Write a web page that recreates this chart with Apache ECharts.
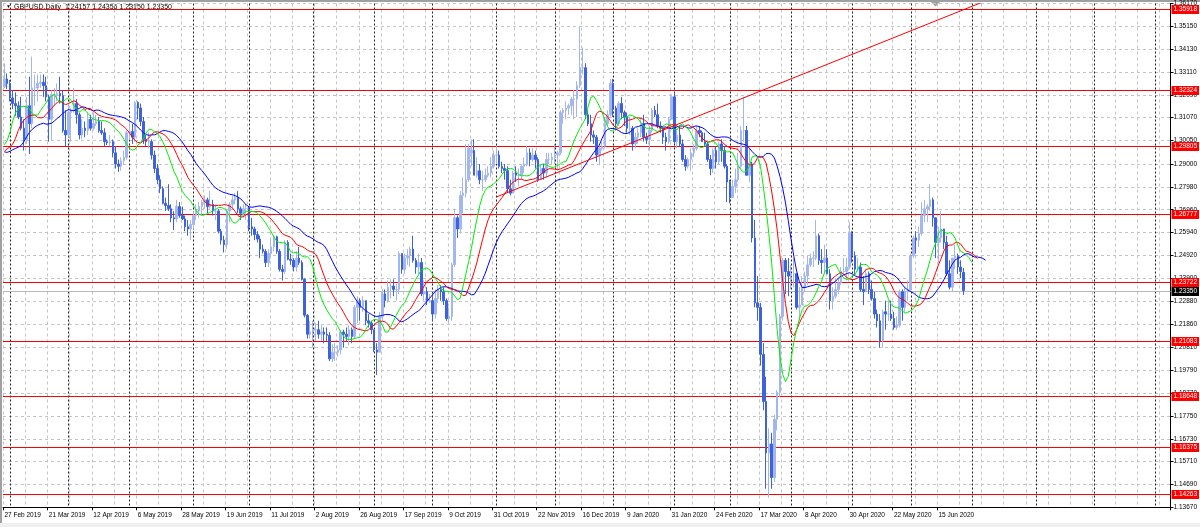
<!DOCTYPE html>
<html><head><meta charset="utf-8">
<script src="https://cdn.jsdelivr.net/npm/echarts@6/dist/echarts.min.js"></script>
<style>html,body{margin:0;padding:0;background:#fff}#c{width:1200px;height:527px}</style>
</head><body><div id="c"></div>
<script>
// ---------- DATA ----------
const symbolTitle = 'GBPUSD,Daily';
const startDate = '2019-02-27';
const holidays = ['2019-12-25', '2020-01-01'];
const futureSlots = 74;            // empty (future) slots on the right, chart shift
// daily bars [open, high, low, close], 27 Feb 2019 .. 26 Jun 2020
const ohlc = [
[1.3245,1.3350,1.3240,1.3280],[1.3280,1.3305,1.3235,1.3260],
[1.3260,1.3275,1.3180,1.3195],
[1.3195,1.3230,1.3145,1.3170],[1.3170,1.3220,1.3115,1.3160],[1.3160,1.3180,1.3100,1.3110],[1.3110,1.3200,1.3050,1.3060],[1.3060,1.3100,1.2960,1.3010],
[1.3010,1.3200,1.2990,1.3160],[1.3160,1.3290,1.2945,1.3080],[1.3080,1.3380,1.3060,1.3240],[1.3240,1.3300,1.3160,1.3240],[1.3240,1.3300,1.3180,1.3260],
[1.3260,1.3300,1.3240,1.3265],[1.3265,1.3300,1.3200,1.3250],[1.3250,1.3290,1.3180,1.3200],[1.3200,1.3210,1.3000,1.3100],[1.3100,1.3230,1.3005,1.3210],
[1.3210,1.3240,1.3160,1.3210],[1.3210,1.3260,1.3180,1.3215],[1.3215,1.3290,1.3170,1.3205],[1.3205,1.3230,1.3040,1.3050],[1.3050,1.3140,1.2980,1.3030],
[1.3030,1.3170,1.3020,1.3130],[1.3130,1.3150,1.3000,1.3140],[1.3140,1.3240,1.3130,1.3170],[1.3170,1.3190,1.3080,1.3120],[1.3120,1.3130,1.3010,1.3030],
[1.3030,1.3100,1.3010,1.3060],[1.3060,1.3090,1.3020,1.3050],[1.3050,1.3130,1.3030,1.3100],[1.3100,1.3120,1.3050,1.3060],[1.3060,1.3130,1.3050,1.3080],
[1.3080,1.3120,1.3070,1.3090],[1.3090,1.3110,1.3040,1.3050],[1.3050,1.3090,1.3030,1.3040],[1.3040,1.3060,1.2980,1.3000],[1.3000,1.3010,1.2985,1.2995],
[1.2995,1.3030,1.2980,1.3000],[1.3000,1.3010,1.2930,1.2950],[1.2950,1.2980,1.2880,1.2900],[1.2900,1.2920,1.2865,1.2890],[1.2890,1.2930,1.2870,1.2915],
[1.2915,1.2960,1.2900,1.2930],[1.2930,1.3050,1.2920,1.3040],[1.3040,1.3100,1.3010,1.3045],[1.3045,1.3080,1.2990,1.3020],[1.3020,1.3180,1.3000,1.3175],
[1.3175,1.3180,1.3100,1.3150],[1.3150,1.3170,1.3070,1.3090],[1.3090,1.3110,1.2990,1.3010],[1.3010,1.3030,1.2980,1.3000],[1.3000,1.3040,1.2970,1.3000],
[1.3000,1.3010,1.2920,1.2940],[1.2940,1.2960,1.2860,1.2880],[1.2880,1.2900,1.2810,1.2830],[1.2830,1.2850,1.2770,1.2790],[1.2790,1.2800,1.2720,1.2725],
[1.2725,1.2750,1.2690,1.2715],[1.2715,1.2810,1.2690,1.2700],[1.2700,1.2720,1.2640,1.2660],[1.2660,1.2690,1.2605,1.2655],[1.2655,1.2740,1.2640,1.2710],
[1.2710,1.2730,1.2660,1.2670],[1.2670,1.2710,1.2650,1.2655],[1.2655,1.2670,1.2600,1.2620],[1.2620,1.2650,1.2580,1.2610],[1.2610,1.2650,1.2560,1.2630],
[1.2630,1.2690,1.2610,1.2670],[1.2670,1.2720,1.2650,1.2690],[1.2690,1.2730,1.2660,1.2710],[1.2710,1.2740,1.2670,1.2730],[1.2730,1.2760,1.2700,1.2740],
[1.2740,1.2750,1.2680,1.2710],[1.2710,1.2780,1.2700,1.2720],[1.2720,1.2740,1.2670,1.2690],[1.2690,1.2720,1.2650,1.2690],[1.2690,1.2700,1.2590,1.2600],
[1.2600,1.2610,1.2540,1.2560],[1.2560,1.2580,1.2505,1.2540],[1.2540,1.2700,1.2520,1.2690],[1.2690,1.2730,1.2640,1.2720],[1.2720,1.2760,1.2700,1.2740],
[1.2740,1.2770,1.2720,1.2750],[1.2750,1.2780,1.2680,1.2700],[1.2700,1.2710,1.2650,1.2680],[1.2680,1.2720,1.2660,1.2700],[1.2700,1.2720,1.2650,1.2700],
[1.2700,1.2710,1.2600,1.2620],[1.2620,1.2660,1.2580,1.2610],[1.2610,1.2620,1.2560,1.2585],[1.2585,1.2600,1.2550,1.2565],[1.2565,1.2580,1.2480,1.2520],
[1.2520,1.2540,1.2500,1.2510],[1.2510,1.2520,1.2440,1.2460],[1.2460,1.2520,1.2440,1.2500],[1.2500,1.2570,1.2490,1.2530],[1.2530,1.2580,1.2510,1.2575],
[1.2575,1.2580,1.2500,1.2510],[1.2510,1.2520,1.2420,1.2430],[1.2430,1.2450,1.2380,1.2420],[1.2420,1.2560,1.2410,1.2550],[1.2550,1.2560,1.2470,1.2475],
[1.2475,1.2500,1.2450,1.2470],[1.2470,1.2480,1.2420,1.2440],[1.2440,1.2510,1.2420,1.2480],[1.2480,1.2530,1.2450,1.2460],[1.2460,1.2470,1.2380,1.2385],
[1.2385,1.2390,1.2215,1.2225],[1.2225,1.2230,1.2120,1.2140],[1.2140,1.2200,1.2120,1.2150],[1.2150,1.2200,1.2080,1.2160],[1.2160,1.2190,1.2110,1.2160],
[1.2160,1.2200,1.2120,1.2140],[1.2140,1.2180,1.2110,1.2150],[1.2150,1.2170,1.2100,1.2140],[1.2140,1.2170,1.2110,1.2135],[1.2135,1.2150,1.2020,1.2030],
[1.2030,1.2095,1.2015,1.2060],[1.2060,1.2100,1.2020,1.2060],[1.2060,1.2090,1.2040,1.2070],[1.2070,1.2160,1.2050,1.2150],[1.2150,1.2160,1.2080,1.2140],
[1.2140,1.2170,1.2110,1.2130],[1.2130,1.2180,1.2090,1.2160],[1.2160,1.2170,1.2100,1.2130],[1.2130,1.2270,1.2120,1.2260],[1.2260,1.2310,1.2190,1.2290],
[1.2290,1.2300,1.2200,1.2260],[1.2260,1.2310,1.2240,1.2290],[1.2290,1.2290,1.2180,1.2200],[1.2200,1.2230,1.2170,1.2190],[1.2190,1.2200,1.2140,1.2160],
[1.2160,1.2160,1.2060,1.2070],[1.2070,1.2100,1.1958,1.2060],[1.2060,1.2240,1.2060,1.2220],[1.2220,1.2340,1.2200,1.2320],[1.2320,1.2340,1.2260,1.2290],
[1.2290,1.2380,1.2280,1.2350],[1.2350,1.2385,1.2300,1.2355],[1.2355,1.2385,1.2310,1.2340],[1.2340,1.2365,1.2290,1.2340],[1.2340,1.2510,1.2320,1.2500],
[1.2500,1.2500,1.2410,1.2430],[1.2430,1.2500,1.2410,1.2480],[1.2480,1.2520,1.2450,1.2490],[1.2490,1.2530,1.2440,1.2520],[1.2520,1.2580,1.2460,1.2470],
[1.2470,1.2480,1.2410,1.2440],[1.2440,1.2500,1.2410,1.2460],[1.2460,1.2480,1.2310,1.2320],[1.2320,1.2380,1.2290,1.2330],[1.2330,1.2350,1.2270,1.2290],
[1.2290,1.2320,1.2280,1.2290],[1.2290,1.2320,1.2200,1.2230],[1.2230,1.2340,1.2210,1.2300],[1.2300,1.2360,1.2280,1.2340],[1.2340,1.2360,1.2290,1.2330],
[1.2330,1.2350,1.2270,1.2290],[1.2290,1.2300,1.2200,1.2210],[1.2210,1.2260,1.2190,1.2220],[1.2220,1.2460,1.2200,1.2450],[1.2450,1.2700,1.2440,1.2660],
[1.2660,1.2670,1.2570,1.2610],[1.2610,1.2780,1.2590,1.2760],[1.2760,1.2840,1.2680,1.2770],[1.2770,1.2990,1.2750,1.2830],[1.2830,1.2990,1.2820,1.2970],
[1.2950,1.3010,1.2890,1.2960],[1.2960,1.3010,1.2850,1.2850],[1.2850,1.2930,1.2840,1.2870],[1.2870,1.2900,1.2810,1.2830],[1.2830,1.2870,1.2780,1.2830],
[1.2830,1.2880,1.2820,1.2850],[1.2850,1.2890,1.2840,1.2860],[1.2860,1.2930,1.2840,1.2890],[1.2890,1.2960,1.2880,1.2940],[1.2940,1.2980,1.2900,1.2940],
[1.2940,1.2960,1.2880,1.2890],[1.2890,1.2910,1.2860,1.2880],[1.2880,1.2900,1.2830,1.2870],[1.2870,1.2890,1.2770,1.2790],[1.2790,1.2830,1.2760,1.2770],
[1.2770,1.2870,1.2770,1.2860],[1.2860,1.2890,1.2820,1.2850],[1.2850,1.2880,1.2800,1.2850],[1.2850,1.2900,1.2830,1.2890],[1.2890,1.2930,1.2860,1.2900],
[1.2900,1.2980,1.2890,1.2950],[1.2950,1.2970,1.2890,1.2920],[1.2920,1.2970,1.2910,1.2940],[1.2940,1.2960,1.2880,1.2920],[1.2920,1.2930,1.2820,1.2830],
[1.2830,1.2900,1.2830,1.2880],[1.2880,1.2900,1.2830,1.2860],[1.2860,1.2950,1.2840,1.2920],[1.2920,1.2950,1.2900,1.2920],[1.2920,1.2950,1.2900,1.2930],
[1.2930,1.2990,1.2900,1.2940],[1.2940,1.2960,1.2870,1.2950],[1.2950,1.3140,1.2940,1.3130],[1.3130,1.3150,1.3080,1.3140],[1.3140,1.3180,1.3100,1.3150],
[1.3150,1.3170,1.3120,1.3160],[1.3160,1.3200,1.3120,1.3190],[1.3190,1.3230,1.3100,1.3190],[1.3190,1.3270,1.3110,1.3250],[1.3250,1.3514,1.3240,1.3330],
[1.3330,1.3420,1.3300,1.3330],[1.3330,1.3350,1.3100,1.3120],[1.3120,1.3140,1.3070,1.3080],[1.3080,1.3120,1.3000,1.3030],[1.3030,1.3050,1.2990,1.3020],
[1.3020,1.3030,1.2910,1.2940],[1.2940,1.2980,1.2900,1.2970],[1.2970,1.3000,1.2960,1.2980],[1.2980,1.3110,1.2970,1.3080],
[1.3080,1.3140,1.3070,1.3120],[1.3120,1.3280,1.3110,1.3260],[1.3260,1.3280,1.3110,1.3150],[1.3150,1.3160,1.3050,1.3080],
[1.3080,1.3180,1.3070,1.3170],[1.3170,1.3200,1.3100,1.3130],[1.3130,1.3140,1.3070,1.3110],[1.3110,1.3130,1.3040,1.3060],[1.3060,1.3110,1.3030,1.3060],
[1.3060,1.3070,1.2960,1.2990],[1.2990,1.3040,1.2970,1.3020],[1.3020,1.3060,1.2990,1.3040],[1.3040,1.3100,1.3020,1.3080],[1.3080,1.3120,1.3000,1.3020],
[1.3020,1.3040,1.2990,1.3010],[1.3010,1.3070,1.2960,1.3050],[1.3050,1.3150,1.3040,1.3140],[1.3140,1.3160,1.3110,1.3120],[1.3120,1.3170,1.3060,1.3070],
[1.3070,1.3090,1.3040,1.3060],[1.3060,1.3070,1.2990,1.3020],[1.3020,1.3040,1.2960,1.3000],[1.3000,1.3110,1.2990,1.3100],[1.3100,1.3210,1.3100,1.3200],
[1.3200,1.3220,1.2990,1.3000],[1.3000,1.3050,1.2970,1.3030],[1.3030,1.3070,1.2980,1.2990],[1.2990,1.3010,1.2910,1.2920],[1.2920,1.2940,1.2870,1.2890],
[1.2890,1.2930,1.2880,1.2920],[1.2920,1.2970,1.2870,1.2950],[1.2950,1.2990,1.2930,1.2970],[1.2970,1.3070,1.2960,1.3050],[1.3050,1.3070,1.3020,1.3040],
[1.3040,1.3050,1.3000,1.3000],[1.3000,1.3040,1.2980,1.2990],[1.2990,1.3000,1.2910,1.2920],[1.2920,1.2940,1.2850,1.2880],[1.2880,1.2970,1.2860,1.2960],
[1.2960,1.2980,1.2880,1.2910],[1.2910,1.3000,1.2900,1.2990],[1.2990,1.3010,1.2910,1.2960],[1.2960,1.2980,1.2880,1.2890],[1.2890,1.2900,1.2730,1.2820],
[1.2820,1.2830,1.2725,1.2750],[1.2750,1.2830,1.2750,1.2800],[1.2800,1.2880,1.2770,1.2830],[1.2830,1.2950,1.2820,1.2890],[1.2890,1.3070,1.2880,1.3050],
[1.3050,1.3200,1.3000,1.3050],[1.3050,1.3070,1.2850,1.2850],[1.2850,1.2970,1.2820,1.2900],[1.2900,1.2910,1.2550,1.2570],[1.2570,1.2650,1.2260,1.2280],
[1.2280,1.2400,1.2200,1.2260],[1.2260,1.2280,1.2000,1.2050],[1.2050,1.2100,1.1800,1.1840],[1.1840,1.1950,1.1450,1.1610],[1.1610,1.1720,1.1410,1.1650],
[1.1650,1.1700,1.1450,1.1500],[1.1500,1.1780,1.1480,1.1760],[1.1760,1.1890,1.1710,1.1880],[1.1880,1.2230,1.1860,1.2220],[1.2220,1.2480,1.2200,1.2470],
[1.2470,1.2480,1.2320,1.2420],[1.2420,1.2480,1.2310,1.2400],[1.2400,1.2450,1.2340,1.2410],[1.2410,1.2480,1.2350,1.2410],[1.2410,1.2410,1.2250,1.2260],
[1.2260,1.2350,1.2200,1.2270],[1.2270,1.2400,1.2270,1.2350],[1.2350,1.2420,1.2330,1.2400],[1.2400,1.2490,1.2360,1.2450],[1.2450,1.2500,1.2440,1.2480],
[1.2480,1.2510,1.2440,1.2480],[1.2480,1.2650,1.2470,1.2580],[1.2580,1.2590,1.2450,1.2470],[1.2470,1.2520,1.2410,1.2460],[1.2460,1.2540,1.2410,1.2480],
[1.2480,1.2520,1.2410,1.2410],[1.2410,1.2430,1.2250,1.2290],[1.2290,1.2350,1.2250,1.2310],[1.2310,1.2390,1.2300,1.2340],[1.2340,1.2390,1.2320,1.2370],
[1.2370,1.2440,1.2360,1.2420],[1.2420,1.2480,1.2410,1.2420],[1.2420,1.2480,1.2380,1.2440],[1.2440,1.2640,1.2430,1.2590],[1.2590,1.2600,1.2460,1.2490],
[1.2490,1.2510,1.2400,1.2430],[1.2430,1.2480,1.2420,1.2440],[1.2440,1.2460,1.2330,1.2340],[1.2340,1.2400,1.2270,1.2330],[1.2330,1.2430,1.2330,1.2410],
[1.2410,1.2420,1.2320,1.2340],[1.2340,1.2380,1.2290,1.2300],[1.2300,1.2330,1.2210,1.2230],[1.2230,1.2250,1.2170,1.2200],[1.2200,1.2230,1.2080,1.2110],
[1.2110,1.2250,1.2080,1.2240],[1.2240,1.2290,1.2160,1.2230],[1.2230,1.2290,1.2200,1.2230],[1.2230,1.2290,1.2200,1.2210],[1.2210,1.2240,1.2160,1.2170],
[1.2170,1.2220,1.2160,1.2180],[1.2180,1.2340,1.2170,1.2330],[1.2330,1.2340,1.2200,1.2260],[1.2260,1.2350,1.2240,1.2330],[1.2330,1.2380,1.2290,1.2340],
[1.2340,1.2500,1.2330,1.2490],[1.2490,1.2580,1.2480,1.2570],[1.2570,1.2600,1.2500,1.2560],[1.2560,1.2620,1.2530,1.2590],[1.2590,1.2730,1.2580,1.2670],
[1.2670,1.2740,1.2640,1.2700],[1.2700,1.2720,1.2640,1.2710],[1.2710,1.2810,1.2690,1.2740],[1.2740,1.2750,1.2620,1.2660],[1.2660,1.2660,1.2480,1.2550],
[1.2550,1.2620,1.2460,1.2570],[1.2570,1.2690,1.2550,1.2610],[1.2610,1.2610,1.2520,1.2550],[1.2550,1.2580,1.2400,1.2410],[1.2410,1.2470,1.2340,1.2350],
[1.2350,1.2480,1.2330,1.2480],[1.2480,1.2540,1.2430,1.2490],[1.2490,1.2500,1.2410,1.2440],[1.2440,1.2470,1.2390,1.2420],[1.24157,1.24356,1.23150,1.23350]
];
// median prices of the bars before the first visible bar (indicator warm-up)
const priorMedian = [1.2800,1.2860,1.2930,1.2920,1.2880,1.2920,1.3000,1.3070,1.3140,1.3170,1.3120,1.3090,1.3140,1.3090,1.3050,1.2990,1.2940,1.2940,1.2950,1.2880,1.2920,1.2870,1.2820,1.2860,1.2930,1.3010,1.3050,1.3040,1.3040,1.3080,1.3190];
// price scale tick labels
const yTicks = [1.1367,1.1469,1.1571,1.1673,1.1775,1.1877,1.1979,1.2081,1.2186,1.2288,1.2390,1.2492,1.2594,1.2696,1.2798,1.2900,1.3005,1.3107,1.3209,1.3311,1.3413,1.3515,1.3617];
// horizontal level lines
const levels = [1.35918,1.32324,1.29805,1.26777,1.23722,1.21083,1.18648,1.16375,1.14263];
// trend line anchors [date, price] (ray to the right)
const trendAnchors = [['2019-11-01',1.2753],['2020-03-05',1.3186]];
// Alligator settings [period, shift]
const jawCfg = [13, 8], teethCfg = [8, 5], lipsCfg = [5, 3];

// ---------- BUILD ----------
const nBars = ohlc.length;
const totalSlots = nBars + futureSlots;
const dates = [];
{
  const p = startDate.split('-').map(Number);
  const d = new Date(Date.UTC(p[0], p[1]-1, p[2]));
  while (dates.length < totalSlots) {
    const s = d.toISOString().slice(0,10), w = d.getUTCDay();
    if (w !== 0 && w !== 6 && holidays.indexOf(s) < 0) dates.push(s);
    d.setUTCDate(d.getUTCDate()+1);
  }
}
const MON = ['Jan','Feb','Mar','Apr','May','Jun','Jul','Aug','Sep','Oct','Nov','Dec'];
function fmtDate(s){ const p=s.split('-'); return (+p[2])+' '+MON[+p[1]-1]+' '+p[0]; }
const labelEvery = 16, gridEvery = 8;
const monthStarts = [];
for (let i=1;i<totalSlots;i++) if (dates[i].slice(0,7)!==dates[i-1].slice(0,7)) monthStarts.push(i);

const med = priorMedian.concat(ohlc.map(b => (b[1]+b[2])/2));
const off = priorMedian.length;
function alligator(cfg){
  const n=cfg[0], sh=cfg[1];
  const out = new Array(totalSlots).fill(null);
  let s=null;
  for (let i=0;i<med.length;i++){
    if (i<n-1) continue;
    if (s===null){ let sum=0; for(let k=i-n+1;k<=i;k++) sum+=med[k]; s=sum/n; }
    else s=(s*(n-1)+med[i])/n;
    const t=i-off+sh;
    if (t>=0 && t<totalSlots) out[t]=s;
  }
  return out;
}
const tIdx = trendAnchors.map(a => dates.indexOf(a[0]));
const slope = (trendAnchors[1][1]-trendAnchors[0][1])/(tIdx[1]-tIdx[0]);
const rayEnd = totalSlots-1;
const trendData = [[tIdx[0], trendAnchors[0][1]], [rayEnd, trendAnchors[0][1]+slope*(rayEnd-tIdx[0])]];

const lastClose = ohlc[nBars-1][3];
const FONT = 'Liberation Sans';
const bull = '#a3b7ee', bear = '#3d62dc';

// horizontal price line with a price box on the scale
function levelRenderer(lineColor, boxColor){
  return function(params, api){
    const cs = params.coordSys;
    const v = api.value(1);
    const y = Math.round(api.coord([0, v])[1]) + 0.5;
    return {type:'group', children:[
      {type:'line', shape:{x1:cs.x, y1:y, x2:cs.x+cs.width, y2:y}, style:{stroke:lineColor, lineWidth:1}},
      {type:'text', x:cs.x+cs.width+1, y:y, style:{text:v.toFixed(5), fill:'#ffffff', backgroundColor:boxColor,
        padding:[1,2,1,2], fontSize:6.5, fontFamily:FONT, verticalAlign:'middle', align:'left'}}
    ]};
  };
}
function separatorRenderer(params, api){
  const cs = params.coordSys;
  const x = Math.round(api.coord([api.value(0), 0])[0]) + 0.5;
  return {type:'line', shape:{x1:x, y1:cs.y, x2:x, y2:cs.y+cs.height}, style:{stroke:'#222222', lineWidth:1, lineDash:[2,2]}};
}

const chart = echarts.init(document.getElementById('c'), null, {renderer:'canvas'});
chart.setOption({
  animation:false,
  backgroundColor:'#ffffff',
  grid:{left:3, right:27, top:3.4, bottom:19.7},
  xAxis:{type:'category', data:dates, boundaryGap:true,
    axisLine:{lineStyle:{color:'#000', width:1}},
    axisTick:{show:true, length:3, interval:(i)=> i%labelEvery===0 && i<nBars, lineStyle:{color:'#000'}},
    axisLabel:{interval:(i)=> i%labelEvery===0 && i<nBars, formatter:fmtDate, align:'left', margin:4,
      fontSize:6.5, fontFamily:FONT, color:'#000'},
    splitLine:{show:true, interval:(i)=> i%gridEvery===0, lineStyle:{color:'#c4c4c4', type:[3,3], width:1}}
  },
  yAxis:{type:'value', position:'right', min:yTicks[0], max:yTicks[yTicks.length-1],
    axisLine:{show:true, lineStyle:{color:'#000', width:1}},
    axisTick:{show:true, length:3, customValues:yTicks, lineStyle:{color:'#000'}},
    axisLabel:{customValues:yTicks, formatter:v=>v.toFixed(5), fontSize:6.5, fontFamily:FONT, color:'#000', margin:3, showMaxLabel:true},
    splitLine:{show:true, lineStyle:{color:'#c4c4c4', type:[3,3], width:1}}
  },
  graphic:[
    {type:'rect', left:0, top:0, shape:{width:1200, height:2}, style:{fill:'#a0a0a0'}, silent:true},
    {type:'rect', left:0, top:0, shape:{width:2, height:527}, style:{fill:'#a0a0a0'}, silent:true},
    {type:'rect', left:0, top:523, shape:{width:1200, height:4}, style:{fill:'#f0f0f0'}, silent:true},
    {type:'polygon', shape:{points:[[931,2],[940,2],[935.5,6.5]]}, style:{fill:'#a0a0a0'}, silent:true},
    {type:'text', left:6, top:4.5, style:{text:'\u25BC', fontSize:5, fontFamily:FONT, fill:'#000'}},
    {type:'text', left:14, top:3.5, style:{text: symbolTitle+'  '+ohlc[nBars-1].map(v=>v.toFixed(5)).join(' '), fontSize:7, fontFamily:FONT, fill:'#000'}}
  ],
  series:[
    {type:'custom', name:'months', z:1, silent:true, clip:false,
      data: monthStarts.map(i=>[i, yTicks[0]]), encode:{x:0, y:1}, renderItem: separatorRenderer},
    {type:'custom', name:'levels', z:1, silent:true, clip:false,
      data: levels.map(v=>[0, v]), encode:{x:0, y:1}, renderItem: levelRenderer('#ff0000', '#ff0000')},
    {type:'custom', name:'price', z:1, silent:true, clip:false,
      data: [[0, lastClose]], encode:{x:0, y:1}, renderItem: levelRenderer('#b8b8b8', '#000000')},
    {type:'candlestick', name:'GBPUSD', barWidth:2, z:2,
      data: ohlc.map(b=>[b[0], b[3], b[2], b[1]]),
      itemStyle:{color:bull, color0:bear, borderColor:bull, borderColor0:bear, borderWidth:1}},
    {type:'line', name:'Jaw', data:alligator(jawCfg), showSymbol:false, color:'#0000ff', lineStyle:{color:'#0000ff', width:1}, z:4},
    {type:'line', name:'Teeth', data:alligator(teethCfg), showSymbol:false, color:'#ff0000', lineStyle:{color:'#ff0000', width:1}, z:4},
    {type:'line', name:'Lips', data:alligator(lipsCfg), showSymbol:false, color:'#00ee00', lineStyle:{color:'#00ee00', width:1}, z:4},
    {type:'line', name:'Trend', data:trendData, showSymbol:false, clip:true, color:'#ff0000', lineStyle:{color:'#ff0000', width:1}, z:5}
  ]
});
</script></body></html>
